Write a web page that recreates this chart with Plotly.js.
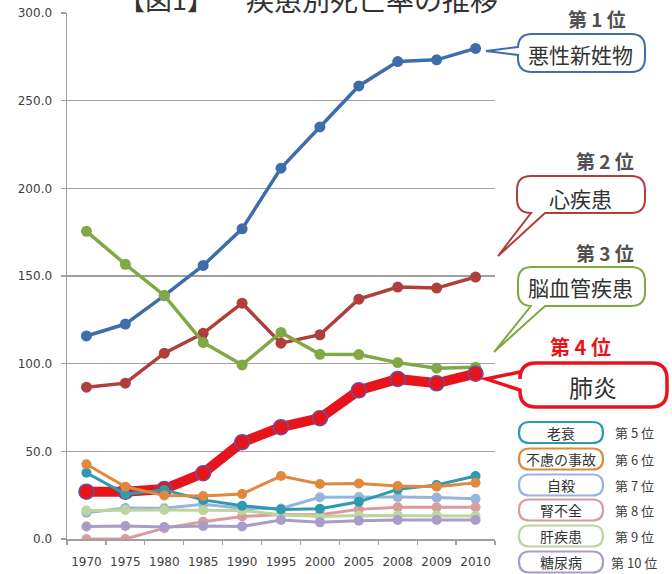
<!DOCTYPE html>
<html><head><meta charset="utf-8">
<script src="https://cdn.plot.ly/plotly-3.0.1.min.js"></script>
<style>html,body{margin:0;padding:0;background:#fff}</style>
</head><body>
<div id="chart" style="width:672px;height:574px"></div>
<script>
// ---- data ----
const years = ['1970','1975','1980','1985','1990','1995','2000','2005','2008','2009','2010'];
const cancer    = [115.8,122.6,138.8,156.0,176.9,211.5,235.0,258.4,272.3,273.3,279.8];
const heart     = [86.6,88.9,106.0,117.3,134.5,111.7,116.5,136.8,143.7,143.1,149.4];
const stroke    = [175.5,156.7,138.9,112.1,99.3,117.8,105.3,105.2,100.6,97.4,98.0];
const pneumonia = [27.0,27.0,28.5,37.5,55.2,63.8,68.9,84.8,91.3,88.8,94.3];
const senility  = [37.8,25.6,28.0,22.3,19.0,16.8,17.2,21.2,28.3,30.8,35.9];
const accident  = [42.6,29.8,24.8,24.5,25.7,35.9,31.4,31.7,30.2,29.8,32.1];
const suicide   = [15.0,17.7,17.5,19.8,17.5,17.4,23.8,23.9,23.9,23.6,22.9];
const renal     = [0,0,6.2,9.9,12.8,14.0,13.9,16.9,18.1,18.1,18.1];
const liver     = [16.3,16.5,16.5,16.4,16.3,13.8,12.8,13.4,13.4,13.4,13.1];
const diabetes  = [7.1,7.4,6.8,7.4,7.2,10.8,9.5,10.4,10.8,10.8,10.8];

const bigNames   = ['悪性新姓物','心疾患','脳血管疾患','肺炎'];
const bigRanks   = ['第 1 位','第 2 位','第 3 位','第 4 位'];
const smallNames = ['老衰','不慮の事故','自殺','腎不全','肝疾患','糖尿病'];
const smallRanks = ['第 5 位','第 6 位','第 7 位','第 8 位','第 9 位','第 10 位'];
const titleA = '【図1】';
const titleB = '疾患別死亡率の推移';

// ---- styles ----
const C = {blue:'#3D6DAA', red:'#B03E3B', green:'#80A844', pn:'#E8141B',
  teal:'#2E9AAE', orange:'#E2883C', lblue:'#98B3DD', pink:'#DA9C9A', lgreen:'#BBD59C', purple:'#A99CC8'};

function tr(y, color, lw, ms, extra){
  return Object.assign({x:years, y:y, type:'scatter', mode:'lines+markers',
    line:{color:color, width:lw}, marker:{color:color, size:ms}, hoverinfo:'skip'}, extra||{});
}
const traces = [
  tr(cancer, C.blue, 3.5, 11),
  tr(heart, C.red, 3.5, 11),
  tr(stroke, C.green, 3.5, 11),
  tr(pneumonia, C.pn, 10, 14, {marker:{color:C.pn, size:15, line:{color:'#6A4FA0', width:1.5}}}),
  tr(suicide, C.lblue, 3, 10),
  tr(renal, C.pink, 3, 10),
  tr(liver, C.lgreen, 3, 10),
  tr(diabetes, C.purple, 3, 10),
  tr(senility, C.teal, 3, 10),
  tr(accident, C.orange, 3, 10)
];

// ---- layout helpers (pixel -> paper) ----
const L=67, R=177, T=13, B=35, W=672, H=574;
const PW=W-L-R, PH=H-T-B;
const px = x => ((x-L)/PW).toFixed(5);
const py = y => ((H-B-y)/PH).toFixed(5);
const P = (x,y) => px(x)+','+py(y);

function box(x0,y0,x1,y1,r,ptr){
  let d = 'M '+P(x0+r,y0)+' L '+P(x1-r,y0)+' Q '+P(x1,y0)+' '+P(x1,y0+r)+
          ' L '+P(x1,y1-r)+' Q '+P(x1,y1)+' '+P(x1-r,y1);
  if(ptr && ptr.side==='bottom') d += ' L '+P(ptr.b,y1)+' L '+P(ptr.tx,ptr.ty)+' L '+P(ptr.a,y1);
  d += ' L '+P(x0+r,y1)+' Q '+P(x0,y1)+' '+P(x0,y1-r);
  if(ptr && ptr.side==='left') d += ' L '+P(x0,ptr.b)+' L '+P(ptr.tx,ptr.ty)+' L '+P(x0,ptr.a);
  d += ' L '+P(x0,y0+r)+' Q '+P(x0,y0)+' '+P(x0+r,y0)+' Z';
  return d;
}
function shp(d,color,w){
  return {type:'path', xref:'paper', yref:'paper', path:d, fillcolor:'#ffffff',
          line:{color:color, width:w}, layer:'above'};
}
const JP = '"Noto Sans CJK JP", "Noto Sans", sans-serif';
function ann(text,x,y,size,color,weight){
  return {text:text, xref:'paper', yref:'paper', x:+px(x), y:+py(y),
    xanchor:'center', yanchor:'middle', showarrow:false,
    font:{family:JP, size:size, color:color, weight:weight||'normal'}};
}

const shapes = [
  shp(box(518,34,645,72,14,{side:'left',a:47,b:55,tx:486,ty:51}), C.blue, 2),
  shp(box(517,176,645,213,14,{side:'bottom',a:531,b:545,tx:498,ty:256}), C.red, 2),
  shp(box(518,267,645,306,14,{side:'bottom',a:531,b:545,tx:494,ty:352}), C.green, 2),
  shp(box(520,363,667,407,16,{side:'left',a:372,b:390,tx:486,ty:379}), C.pn, 3.5)
];
const smallColors = [C.teal, C.orange, C.lblue, C.pink, C.lgreen, C.purple];
const smallCY = [432.5,459,485,510,536,562];
smallCY.forEach((cy,i)=>{
  shapes.push(shp(box(519,cy-10.5,603,cy+10.5,10.5,null), smallColors[i], 2.2));
});

const annotations = [
  ann(titleA,166,-1,27,'#333'),
  ann(titleB,372,-1,28,'#333'),
  ann(bigRanks[0],597,18,19,'#505050','bold'),
  ann(bigNames[0],581,54,21,'#333'),
  ann(bigRanks[1],605,160,19,'#505050','bold'),
  ann(bigNames[1],580,198,21,'#333'),
  ann(bigRanks[2],605,253,19,'#505050','bold'),
  ann(bigNames[2],581,287,21,'#333'),
  ann(bigRanks[3],580,347,20,C.pn,'bold'),
  ann(bigNames[3],593,386,24,'#333')
];
smallCY.forEach((cy,i)=>{
  annotations.push(ann(smallNames[i],561,cy,14,'#333'));
  annotations.push(ann(smallRanks[i],634,cy,13,'#404040'));
});

const layout = {
  width:W, height:H, margin:{l:L,r:R,t:T,b:B,pad:0},
  paper_bgcolor:'#fff', plot_bgcolor:'#fff', showlegend:false, hovermode:false,
  font:{family:'"DejaVu Sans", sans-serif', size:12, color:'#404040'},
  xaxis:{type:'category', range:[-0.5,10.5], showgrid:false, showline:true, linecolor:'#A0A0A0', linewidth:1.5,
    ticks:'outside', tickson:'boundaries', ticklen:4, tickcolor:'#A0A0A0', tickwidth:1.2, tickangle:0,
    ticklabelstandoff:11,
    tickfont:{family:'"DejaVu Sans", sans-serif', size:12, color:'#404040'}, fixedrange:true},
  yaxis:{range:[0,300], dtick:50, tick0:0, tickformat:'.1f', showgrid:true, gridcolor:'#A0A0A0', gridwidth:1.5,
    zeroline:false, showline:true, linecolor:'#A0A0A0', linewidth:1.5,
    ticks:'outside', ticklen:5, tickcolor:'#A0A0A0', tickwidth:1.2, ticklabelstandoff:6,
    tickfont:{family:'"DejaVu Sans", sans-serif', size:12, color:'#404040'}, fixedrange:true},
  shapes:shapes, annotations:annotations
};
Plotly.newPlot('chart', traces, layout, {staticPlot:true, displayModeBar:false});
</script>
</body></html>
